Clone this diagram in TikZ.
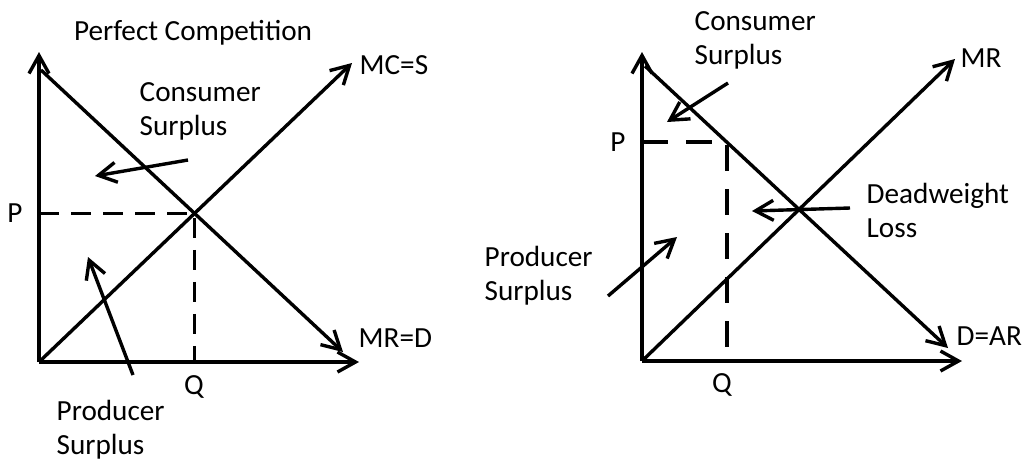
\documentclass[tikz,border=0pt]{standalone}
\usepackage{fontspec}
\setmainfont{Carlito}
\usetikzlibrary{arrows.meta,calc,positioning}

\begin{document}
\begin{tikzpicture}[x=0.5pt, y=-0.5pt, line width=1.7pt,
  every node/.style={inner sep=0pt, font=\fontsize{14.6}{17}\selectfont},
  barb/.style={-{Straight Barb[length=9pt,width=10pt,line width=1.7pt]}},
  guide/.style={dashed, dash pattern=on 10pt off 6pt}]
  \useasboundingbox (0,0) rectangle (1023,462);
  % perfect competition
  \coordinate (O1) at (39,362);
  \coordinate (Y1) at (39,52);
  \coordinate (X1) at (359,362);
  \coordinate (S1) at (352,63);
  \coordinate (Dtop1) at (41,70);
  \coordinate (Dend1) at (343,352);
  \coordinate (E1) at (intersection of O1--S1 and Dtop1--Dend1);
  \draw[barb] (O1) -- (Y1);
  \draw[barb] (O1) -- (X1);
  \draw[barb] (O1) -- (S1);
  \draw[barb] (Dtop1) -- (Dend1);
  \draw[guide] (O1|-E1) -- (E1) -- (E1|-O1);
  \node (title1) at (193,33) {Perfect Competition};
  \node[anchor=west] (mcs) at (358,65) {MC=S};
  \node[anchor=west] (mrd) at (357,338) {MR=D};
  \node (P1) at (15,213) {P};
  \node (Q1) at (194,387) {Q};
  \node[anchor=west, align=left] (cs1) at (138,111) {Consumer\\Surplus};
  \node[anchor=west, align=left] (ps1) at (55,430) {Producer\\Surplus};
  \coordinate (cs1from) at (188,160);
  \coordinate (cs1to) at (95,176);
  \coordinate (ps1from) at (133,375);
  \coordinate (ps1to) at (88,257);
  \draw[barb] (cs1from) -- (cs1to);
  \draw[barb] (ps1from) -- (ps1to);
  % monopoly
  \coordinate (O2) at (642,361);
  \coordinate (Y2) at (642,52);
  \coordinate (X2) at (962,361);
  \coordinate (R2) at (955,59);
  \coordinate (Dtop2) at (645,66);
  \coordinate (Dend2) at (948,348);
  \coordinate (M2) at ($(Dtop2)!0.27!(Dend2)$);
  \coordinate (E2) at (intersection of O2--R2 and Dtop2--Dend2);
  \draw[barb] (O2) -- (Y2);
  \draw[barb] (O2) -- (X2);
  \draw[barb] (O2) -- (R2);
  \draw[barb] (Dtop2) -- (Dend2);
  \draw[guide, dash pattern=on 13pt off 9pt] (O2|-M2) -- (M2) -- (M2|-O2);
  \node[anchor=west] (mr) at (959,58) {MR};
  \node[anchor=west] (dar) at (955,336) {D=AR};
  \node (P2) at (618,142) {P};
  \node (Q2) at (722,385) {Q};
  \node[anchor=west, align=left] (cs2) at (693,40) {Consumer\\Surplus};
  \node[anchor=west, align=left] (dwl) at (865,210) {Deadweight\\Loss};
  \node[anchor=west, align=left] (ps2) at (483,276) {Producer\\Surplus};
  \coordinate (cs2from) at (728,83);
  \coordinate (cs2to) at (667,122);
  \coordinate (dwlfrom) at (850,208);
  \coordinate (dwlto) at (752,211);
  \coordinate (ps2from) at (608,296);
  \coordinate (ps2to) at (677,237);
  \draw[barb] (cs2from) -- (cs2to);
  \draw[barb] (dwlfrom) -- (dwlto);
  \draw[barb] (ps2from) -- (ps2to);
\end{tikzpicture}
\end{document}
